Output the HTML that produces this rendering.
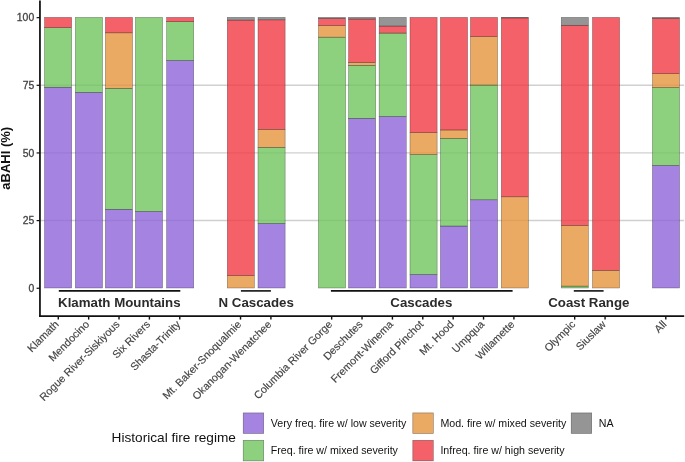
<!DOCTYPE html>
<html><head><meta charset="utf-8"><style>
html,body{margin:0;padding:0;background:#fff;}
body{width:685px;height:462px;overflow:hidden;}
svg{display:block;will-change:transform;}
text{font-family:"Liberation Sans",sans-serif;}
.yl{font-size:10.4px;fill:#444;stroke:#444;stroke-width:0.3px;}
.xl{font-size:10.7px;fill:#444;stroke:#444;stroke-width:0.15px;}
.gl{font-size:13.7px;font-weight:bold;fill:#2b2b2b;}
.yt{font-size:13px;font-weight:bold;fill:#111;}
.lt{font-size:13.65px;fill:#111;}
.ll{font-size:10.65px;fill:#111;}
</style></head><body>
<svg width="685" height="462" viewBox="0 0 685 462">
<rect width="685" height="462" fill="#fff"/>
<line x1="40" y1="220.55" x2="684.2" y2="220.55" stroke="#d0d0d0" stroke-width="1.4"/>
<line x1="40" y1="152.9" x2="684.2" y2="152.9" stroke="#d0d0d0" stroke-width="1.4"/>
<line x1="40" y1="85.25" x2="684.2" y2="85.25" stroke="#d0d0d0" stroke-width="1.4"/>
<rect x="44.5" y="87.21" width="27.15" height="200.79" fill="rgb(141,101,216)" fill-opacity="0.8" stroke="rgba(0,0,0,0.45)" stroke-width="0.55"/>
<rect x="44.5" y="27.68" width="27.15" height="59.53" fill="rgb(112,197,95)" fill-opacity="0.8" stroke="rgba(0,0,0,0.45)" stroke-width="0.55"/>
<rect x="44.5" y="17.4" width="27.15" height="10.28" fill="rgb(241,58,67)" fill-opacity="0.8" stroke="rgba(0,0,0,0.45)" stroke-width="0.55"/>
<rect x="75.38" y="92.36" width="27.15" height="195.64" fill="rgb(141,101,216)" fill-opacity="0.8" stroke="rgba(0,0,0,0.45)" stroke-width="0.55"/>
<rect x="75.38" y="17.4" width="27.15" height="74.96" fill="rgb(112,197,95)" fill-opacity="0.8" stroke="rgba(0,0,0,0.45)" stroke-width="0.55"/>
<rect x="105.38" y="209.26" width="27.15" height="78.74" fill="rgb(141,101,216)" fill-opacity="0.8" stroke="rgba(0,0,0,0.45)" stroke-width="0.55"/>
<rect x="105.38" y="88.3" width="27.15" height="120.96" fill="rgb(112,197,95)" fill-opacity="0.8" stroke="rgba(0,0,0,0.45)" stroke-width="0.55"/>
<rect x="105.38" y="32.82" width="27.15" height="55.47" fill="rgb(229,149,60)" fill-opacity="0.8" stroke="rgba(0,0,0,0.45)" stroke-width="0.55"/>
<rect x="105.38" y="17.4" width="27.15" height="15.42" fill="rgb(241,58,67)" fill-opacity="0.8" stroke="rgba(0,0,0,0.45)" stroke-width="0.55"/>
<rect x="135.43" y="211.42" width="27.15" height="76.58" fill="rgb(141,101,216)" fill-opacity="0.8" stroke="rgba(0,0,0,0.45)" stroke-width="0.55"/>
<rect x="135.43" y="17.4" width="27.15" height="194.02" fill="rgb(112,197,95)" fill-opacity="0.8" stroke="rgba(0,0,0,0.45)" stroke-width="0.55"/>
<rect x="166.58" y="60.43" width="27.15" height="227.57" fill="rgb(141,101,216)" fill-opacity="0.8" stroke="rgba(0,0,0,0.45)" stroke-width="0.55"/>
<rect x="166.58" y="21.73" width="27.15" height="38.7" fill="rgb(112,197,95)" fill-opacity="0.8" stroke="rgba(0,0,0,0.45)" stroke-width="0.55"/>
<rect x="166.58" y="17.4" width="27.15" height="4.33" fill="rgb(241,58,67)" fill-opacity="0.8" stroke="rgba(0,0,0,0.45)" stroke-width="0.55"/>
<rect x="227.28" y="275.55" width="27.15" height="12.45" fill="rgb(229,149,60)" fill-opacity="0.8" stroke="rgba(0,0,0,0.45)" stroke-width="0.55"/>
<rect x="227.28" y="20.11" width="27.15" height="255.45" fill="rgb(241,58,67)" fill-opacity="0.8" stroke="rgba(0,0,0,0.45)" stroke-width="0.55"/>
<rect x="227.28" y="17.4" width="27.15" height="2.71" fill="rgb(123,123,123)" fill-opacity="0.8" stroke="rgba(0,0,0,0.45)" stroke-width="0.55"/>
<rect x="257.98" y="223.46" width="27.15" height="64.54" fill="rgb(141,101,216)" fill-opacity="0.8" stroke="rgba(0,0,0,0.45)" stroke-width="0.55"/>
<rect x="257.98" y="147.29" width="27.15" height="76.17" fill="rgb(112,197,95)" fill-opacity="0.8" stroke="rgba(0,0,0,0.45)" stroke-width="0.55"/>
<rect x="257.98" y="129.43" width="27.15" height="17.86" fill="rgb(229,149,60)" fill-opacity="0.8" stroke="rgba(0,0,0,0.45)" stroke-width="0.55"/>
<rect x="257.98" y="19.84" width="27.15" height="109.59" fill="rgb(241,58,67)" fill-opacity="0.8" stroke="rgba(0,0,0,0.45)" stroke-width="0.55"/>
<rect x="257.98" y="17.4" width="27.15" height="2.44" fill="rgb(123,123,123)" fill-opacity="0.8" stroke="rgba(0,0,0,0.45)" stroke-width="0.55"/>
<rect x="318.43" y="37.15" width="27.15" height="250.85" fill="rgb(112,197,95)" fill-opacity="0.8" stroke="rgba(0,0,0,0.45)" stroke-width="0.55"/>
<rect x="318.43" y="25.52" width="27.15" height="11.64" fill="rgb(229,149,60)" fill-opacity="0.8" stroke="rgba(0,0,0,0.45)" stroke-width="0.55"/>
<rect x="318.43" y="18.48" width="27.15" height="7.04" fill="rgb(241,58,67)" fill-opacity="0.8" stroke="rgba(0,0,0,0.45)" stroke-width="0.55"/>
<rect x="318.43" y="17.4" width="27.15" height="1.08" fill="rgb(123,123,123)" fill-opacity="0.8" stroke="rgba(0,0,0,0.45)" stroke-width="0.55"/>
<rect x="348.53" y="118.33" width="27.15" height="169.67" fill="rgb(141,101,216)" fill-opacity="0.8" stroke="rgba(0,0,0,0.45)" stroke-width="0.55"/>
<rect x="348.53" y="65.3" width="27.15" height="53.04" fill="rgb(112,197,95)" fill-opacity="0.8" stroke="rgba(0,0,0,0.45)" stroke-width="0.55"/>
<rect x="348.53" y="62.32" width="27.15" height="2.98" fill="rgb(229,149,60)" fill-opacity="0.8" stroke="rgba(0,0,0,0.45)" stroke-width="0.55"/>
<rect x="348.53" y="19.02" width="27.15" height="43.3" fill="rgb(241,58,67)" fill-opacity="0.8" stroke="rgba(0,0,0,0.45)" stroke-width="0.55"/>
<rect x="348.53" y="17.4" width="27.15" height="1.62" fill="rgb(123,123,123)" fill-opacity="0.8" stroke="rgba(0,0,0,0.45)" stroke-width="0.55"/>
<rect x="379.12" y="116.44" width="27.15" height="171.56" fill="rgb(141,101,216)" fill-opacity="0.8" stroke="rgba(0,0,0,0.45)" stroke-width="0.55"/>
<rect x="379.12" y="33.09" width="27.15" height="83.34" fill="rgb(112,197,95)" fill-opacity="0.8" stroke="rgba(0,0,0,0.45)" stroke-width="0.55"/>
<rect x="379.12" y="26.06" width="27.15" height="7.04" fill="rgb(241,58,67)" fill-opacity="0.8" stroke="rgba(0,0,0,0.45)" stroke-width="0.55"/>
<rect x="379.12" y="17.4" width="27.15" height="8.66" fill="rgb(123,123,123)" fill-opacity="0.8" stroke="rgba(0,0,0,0.45)" stroke-width="0.55"/>
<rect x="409.98" y="274.47" width="27.15" height="13.53" fill="rgb(141,101,216)" fill-opacity="0.8" stroke="rgba(0,0,0,0.45)" stroke-width="0.55"/>
<rect x="409.98" y="154.59" width="27.15" height="119.88" fill="rgb(112,197,95)" fill-opacity="0.8" stroke="rgba(0,0,0,0.45)" stroke-width="0.55"/>
<rect x="409.98" y="132.68" width="27.15" height="21.92" fill="rgb(229,149,60)" fill-opacity="0.8" stroke="rgba(0,0,0,0.45)" stroke-width="0.55"/>
<rect x="409.98" y="17.4" width="27.15" height="115.28" fill="rgb(241,58,67)" fill-opacity="0.8" stroke="rgba(0,0,0,0.45)" stroke-width="0.55"/>
<rect x="440.43" y="226.03" width="27.15" height="61.97" fill="rgb(141,101,216)" fill-opacity="0.8" stroke="rgba(0,0,0,0.45)" stroke-width="0.55"/>
<rect x="440.43" y="138.36" width="27.15" height="87.67" fill="rgb(112,197,95)" fill-opacity="0.8" stroke="rgba(0,0,0,0.45)" stroke-width="0.55"/>
<rect x="440.43" y="129.97" width="27.15" height="8.39" fill="rgb(229,149,60)" fill-opacity="0.8" stroke="rgba(0,0,0,0.45)" stroke-width="0.55"/>
<rect x="440.43" y="17.4" width="27.15" height="112.57" fill="rgb(241,58,67)" fill-opacity="0.8" stroke="rgba(0,0,0,0.45)" stroke-width="0.55"/>
<rect x="470.43" y="199.78" width="27.15" height="88.22" fill="rgb(141,101,216)" fill-opacity="0.8" stroke="rgba(0,0,0,0.45)" stroke-width="0.55"/>
<rect x="470.43" y="85.05" width="27.15" height="114.73" fill="rgb(112,197,95)" fill-opacity="0.8" stroke="rgba(0,0,0,0.45)" stroke-width="0.55"/>
<rect x="470.43" y="36.61" width="27.15" height="48.44" fill="rgb(229,149,60)" fill-opacity="0.8" stroke="rgba(0,0,0,0.45)" stroke-width="0.55"/>
<rect x="470.43" y="17.4" width="27.15" height="19.21" fill="rgb(241,58,67)" fill-opacity="0.8" stroke="rgba(0,0,0,0.45)" stroke-width="0.55"/>
<rect x="501.32" y="196.81" width="27.15" height="91.19" fill="rgb(229,149,60)" fill-opacity="0.8" stroke="rgba(0,0,0,0.45)" stroke-width="0.55"/>
<rect x="501.32" y="17.94" width="27.15" height="178.87" fill="rgb(241,58,67)" fill-opacity="0.8" stroke="rgba(0,0,0,0.45)" stroke-width="0.55"/>
<rect x="501.32" y="17.4" width="27.15" height="0.54" fill="rgb(123,123,123)" fill-opacity="0.8" stroke="rgba(0,0,0,0.45)" stroke-width="0.55"/>
<rect x="561.27" y="286.11" width="27.15" height="1.89" fill="rgb(112,197,95)" fill-opacity="0.8" stroke="rgba(0,0,0,0.45)" stroke-width="0.55"/>
<rect x="561.27" y="225.49" width="27.15" height="60.61" fill="rgb(229,149,60)" fill-opacity="0.8" stroke="rgba(0,0,0,0.45)" stroke-width="0.55"/>
<rect x="561.27" y="25.25" width="27.15" height="200.24" fill="rgb(241,58,67)" fill-opacity="0.8" stroke="rgba(0,0,0,0.45)" stroke-width="0.55"/>
<rect x="561.27" y="17.4" width="27.15" height="7.85" fill="rgb(123,123,123)" fill-opacity="0.8" stroke="rgba(0,0,0,0.45)" stroke-width="0.55"/>
<rect x="592.47" y="270.41" width="27.15" height="17.59" fill="rgb(229,149,60)" fill-opacity="0.8" stroke="rgba(0,0,0,0.45)" stroke-width="0.55"/>
<rect x="592.47" y="17.4" width="27.15" height="253.01" fill="rgb(241,58,67)" fill-opacity="0.8" stroke="rgba(0,0,0,0.45)" stroke-width="0.55"/>
<rect x="652.42" y="165.42" width="27.15" height="122.58" fill="rgb(141,101,216)" fill-opacity="0.8" stroke="rgba(0,0,0,0.45)" stroke-width="0.55"/>
<rect x="652.42" y="87.49" width="27.15" height="77.93" fill="rgb(112,197,95)" fill-opacity="0.8" stroke="rgba(0,0,0,0.45)" stroke-width="0.55"/>
<rect x="652.42" y="73.68" width="27.15" height="13.8" fill="rgb(229,149,60)" fill-opacity="0.8" stroke="rgba(0,0,0,0.45)" stroke-width="0.55"/>
<rect x="652.42" y="18.21" width="27.15" height="55.47" fill="rgb(241,58,67)" fill-opacity="0.8" stroke="rgba(0,0,0,0.45)" stroke-width="0.55"/>
<rect x="652.42" y="17.4" width="27.15" height="0.81" fill="rgb(123,123,123)" fill-opacity="0.8" stroke="rgba(0,0,0,0.45)" stroke-width="0.55"/>
<line x1="39.95" y1="0.6" x2="39.95" y2="316.9" stroke="#111" stroke-width="1.75"/>
<line x1="39.1" y1="316.1" x2="684.2" y2="316.1" stroke="#111" stroke-width="1.6"/>
<line x1="36.6" y1="288.25" x2="40" y2="288.25" stroke="#111" stroke-width="1.2"/>
<text x="34.2" y="291.9" text-anchor="end" class="yl">0</text>
<line x1="36.6" y1="220.6" x2="40" y2="220.6" stroke="#111" stroke-width="1.2"/>
<text x="34.2" y="224.25" text-anchor="end" class="yl">25</text>
<line x1="36.6" y1="152.95" x2="40" y2="152.95" stroke="#111" stroke-width="1.2"/>
<text x="34.2" y="156.6" text-anchor="end" class="yl">50</text>
<line x1="36.6" y1="85.3" x2="40" y2="85.3" stroke="#111" stroke-width="1.2"/>
<text x="34.2" y="88.95" text-anchor="end" class="yl">75</text>
<line x1="36.6" y1="17.65" x2="40" y2="17.65" stroke="#111" stroke-width="1.2"/>
<text x="34.2" y="21.3" text-anchor="end" class="yl">100</text>
<line x1="58.28" y1="316.5" x2="58.28" y2="319.6" stroke="#111" stroke-width="1.4"/>
<text transform="translate(59.58,325) rotate(-45)" text-anchor="end" class="xl">Klamath</text>
<line x1="88.66" y1="316.5" x2="88.66" y2="319.6" stroke="#111" stroke-width="1.4"/>
<text transform="translate(89.96,325) rotate(-45)" text-anchor="end" class="xl">Mendocino</text>
<line x1="119.03" y1="316.5" x2="119.03" y2="319.6" stroke="#111" stroke-width="1.4"/>
<text transform="translate(120.33,325) rotate(-45)" text-anchor="end" class="xl">Rogue River-Siskiyous</text>
<line x1="149.41" y1="316.5" x2="149.41" y2="319.6" stroke="#111" stroke-width="1.4"/>
<text transform="translate(150.71,325) rotate(-45)" text-anchor="end" class="xl">Six Rivers</text>
<line x1="179.78" y1="316.5" x2="179.78" y2="319.6" stroke="#111" stroke-width="1.4"/>
<text transform="translate(181.08,325) rotate(-45)" text-anchor="end" class="xl">Shasta-Trinity</text>
<line x1="240.54" y1="316.5" x2="240.54" y2="319.6" stroke="#111" stroke-width="1.4"/>
<text transform="translate(241.84,325) rotate(-45)" text-anchor="end" class="xl">Mt. Baker-Snoqualmie</text>
<line x1="270.91" y1="316.5" x2="270.91" y2="319.6" stroke="#111" stroke-width="1.4"/>
<text transform="translate(272.21,325) rotate(-45)" text-anchor="end" class="xl">Okanogan-Wenatchee</text>
<line x1="331.66" y1="316.5" x2="331.66" y2="319.6" stroke="#111" stroke-width="1.4"/>
<text transform="translate(332.96,325) rotate(-45)" text-anchor="end" class="xl">Columbia River Gorge</text>
<line x1="362.04" y1="316.5" x2="362.04" y2="319.6" stroke="#111" stroke-width="1.4"/>
<text transform="translate(363.34,325) rotate(-45)" text-anchor="end" class="xl">Deschutes</text>
<line x1="392.42" y1="316.5" x2="392.42" y2="319.6" stroke="#111" stroke-width="1.4"/>
<text transform="translate(393.72,325) rotate(-45)" text-anchor="end" class="xl">Fremont-Winema</text>
<line x1="422.79" y1="316.5" x2="422.79" y2="319.6" stroke="#111" stroke-width="1.4"/>
<text transform="translate(424.09,325) rotate(-45)" text-anchor="end" class="xl">Gifford Pinchot</text>
<line x1="453.17" y1="316.5" x2="453.17" y2="319.6" stroke="#111" stroke-width="1.4"/>
<text transform="translate(454.47,325) rotate(-45)" text-anchor="end" class="xl">Mt. Hood</text>
<line x1="483.54" y1="316.5" x2="483.54" y2="319.6" stroke="#111" stroke-width="1.4"/>
<text transform="translate(484.84,325) rotate(-45)" text-anchor="end" class="xl">Umpqua</text>
<line x1="513.92" y1="316.5" x2="513.92" y2="319.6" stroke="#111" stroke-width="1.4"/>
<text transform="translate(515.22,325) rotate(-45)" text-anchor="end" class="xl">Willamette</text>
<line x1="574.67" y1="316.5" x2="574.67" y2="319.6" stroke="#111" stroke-width="1.4"/>
<text transform="translate(575.97,325) rotate(-45)" text-anchor="end" class="xl">Olympic</text>
<line x1="605.05" y1="316.5" x2="605.05" y2="319.6" stroke="#111" stroke-width="1.4"/>
<text transform="translate(606.35,325) rotate(-45)" text-anchor="end" class="xl">Siuslaw</text>
<line x1="665.8" y1="316.5" x2="665.8" y2="319.6" stroke="#111" stroke-width="1.4"/>
<text transform="translate(667.1,325) rotate(-45)" text-anchor="end" class="xl">All</text>
<line x1="58.8" y1="290.9" x2="180.3" y2="290.9" stroke="#111" stroke-width="1.6"/>
<text transform="translate(119.3,306.75) scale(0.97,1)" text-anchor="middle" class="gl">Klamath Mountains</text>
<line x1="240.9" y1="290.9" x2="270.9" y2="290.9" stroke="#111" stroke-width="1.6"/>
<text transform="translate(256.2,306.75) scale(0.97,1)" text-anchor="middle" class="gl">N Cascades</text>
<line x1="330.9" y1="290.9" x2="512.6" y2="290.9" stroke="#111" stroke-width="1.6"/>
<text transform="translate(421.3,306.75) scale(0.97,1)" text-anchor="middle" class="gl">Cascades</text>
<line x1="573.8" y1="290.9" x2="603.6" y2="290.9" stroke="#111" stroke-width="1.6"/>
<text transform="translate(588.8,306.75) scale(0.97,1)" text-anchor="middle" class="gl">Coast Range</text>
<text transform="translate(10.3,158.3) rotate(-90)" text-anchor="middle" class="yt">aBAHI (%)</text>
<text x="111.6" y="441.7" class="lt">Historical fire regime</text>
<rect x="243.2" y="412.9" width="20.5" height="20.6" fill="rgb(141,101,216)" fill-opacity="0.8" stroke="rgba(0,0,0,0.45)" stroke-width="0.6"/>
<text x="270.8" y="426.9" class="ll">Very freq. fire w/ low severity</text>
<rect x="243.2" y="440.3" width="20.5" height="20.6" fill="rgb(112,197,95)" fill-opacity="0.8" stroke="rgba(0,0,0,0.45)" stroke-width="0.6"/>
<text x="270.8" y="454.3" class="ll">Freq. fire w/ mixed severity</text>
<rect x="412.8" y="412.9" width="20.5" height="20.6" fill="rgb(229,149,60)" fill-opacity="0.8" stroke="rgba(0,0,0,0.45)" stroke-width="0.6"/>
<text x="440.4" y="426.9" class="ll">Mod. fire w/ mixed severity</text>
<rect x="412.8" y="440.3" width="20.5" height="20.6" fill="rgb(241,58,67)" fill-opacity="0.8" stroke="rgba(0,0,0,0.45)" stroke-width="0.6"/>
<text x="440.4" y="454.3" class="ll">Infreq. fire w/ high severity</text>
<rect x="571.2" y="412.9" width="20.5" height="20.6" fill="rgb(123,123,123)" fill-opacity="0.8" stroke="rgba(0,0,0,0.45)" stroke-width="0.6"/>
<text x="598.8" y="426.9" class="ll">NA</text>
</svg>
</body></html>
